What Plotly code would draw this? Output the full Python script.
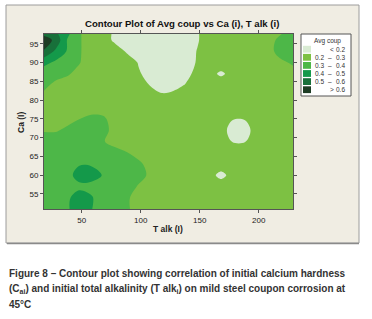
import plotly.graph_objects as go

# ---------------- data ----------------
talk = [18, 28, 38, 48, 58, 68, 78, 88, 98, 108, 118, 128, 138, 148, 158, 168, 178, 188, 198, 208, 218, 229]
ca = [51, 54, 57, 60, 63, 66, 69, 72, 75, 78, 81, 84, 87, 90, 93, 96, 97.6]

B = 0.25
avg_coup = [
    # 18   28    38    48    58     68     78    88     98    108   118   128   138   148    158   168    178    188    198   208   218   229
    [0.35, 0.36, 0.39, 0.45, 0.405, 0.35, 0.34, 0.32, B, B, B, B, B, B, B, B, B, B, B, B, B, B],                       # 51
    [0.35, 0.36, 0.38, 0.46, 0.41, 0.35, 0.34, 0.32, B, B, B, B, B, B, B, B, B, B, B, B, B, B],                        # 54
    [0.35, 0.35, 0.36, 0.37, 0.37, 0.36, 0.35, 0.36, 0.29, B, B, B, B, B, B, 0.28, B, B, B, B, B, B],                  # 57
    [0.35, 0.35, 0.36, 0.45, 0.44, 0.395, 0.36, 0.36, 0.34, 0.28, B, B, B, B, B, 0.16, B, B, B, B, B, B],             # 60
    [0.35, 0.35, 0.35, 0.39, 0.39, 0.36, 0.35, 0.35, 0.33, B, B, B, B, B, B, 0.28, B, B, B, B, B, B],                  # 63
    [0.35, 0.35, 0.35, 0.35, 0.35, 0.35, 0.35, 0.305, B, B, B, B, B, B, B, B, B, B, B, B, B, B],                       # 66
    [0.35, 0.35, 0.35, 0.35, 0.35, 0.31, B, B, B, B, B, B, B, B, B, B, 0.195, 0.195, B, B, B, B],                      # 69
    [0.29, 0.29, 0.32, 0.35, 0.35, 0.33, 0.27, B, B, B, B, B, B, B, B, B, 0.15, 0.15, B, B, B, B],                     # 72
    [B, B, 0.27, 0.298, 0.33, 0.32, B, B, B, B, B, B, B, B, B, B, 0.205, 0.205, B, B, B, B],                           # 75
    [B, B, B, B, B, B, B, B, B, B, B, B, B, B, B, B, B, B, B, B, B, B],                                                # 78
    [0.28, B, B, B, B, B, B, B, B, B, 0.22, 0.23, B, B, B, B, B, B, B, B, B, B],                                       # 81
    [0.32, 0.28, 0.26, B, B, B, B, B, B, 0.195, 0.15, 0.17, 0.205, B, B, 0.29, B, B, B, B, B, B],                      # 84
    [0.34, 0.33, 0.31, 0.27, B, B, B, B, 0.21, 0.17, 0.15, 0.15, 0.17, 0.23, B, 0.175, B, B, B, B, B, B],             # 87
    [0.43, 0.38, 0.34, 0.305, B, B, B, B, 0.195, 0.15, 0.15, 0.15, 0.15, 0.21, B, 0.29, B, B, B, B, 0.27, 0.32],      # 90
    [0.59, 0.48, 0.39, 0.31, B, B, B, 0.19, 0.15, 0.15, 0.15, 0.15, 0.15, 0.205, B, B, B, B, B, B, 0.35, 0.37],       # 93
    [0.66, 0.57, 0.39, 0.31, B, B, 0.18, 0.15, 0.15, 0.15, 0.15, 0.15, 0.15, 0.19, 0.26, B, B, B, B, B, 0.33, 0.36],  # 96
    [0.57, 0.52, 0.42, 0.31, B, B, 0.18, 0.15, 0.15, 0.15, 0.15, 0.15, 0.15, 0.19, 0.26, B, B, B, B, B, 0.29, 0.36],  # 97.6
]

levels = [0.2, 0.3, 0.4, 0.5, 0.6]
band_colors = ["#D9EBD3", "#7DC143", "#4DB748", "#14994A", "#18703A", "#1D3C24"]
legend_lo = ["", "0.2", "0.3", "0.4", "0.5", ""]
legend_sep = ["<", "\u2013", "\u2013", "\u2013", "\u2013", ">"]
legend_hi = ["0.2", "0.3", "0.4", "0.5", "0.6", "0.6"]
x_ticks = [50, 100, 150, 200]
y_ticks = [55, 60, 65, 70, 75, 80, 85, 90, 95]

# ---------------- layout helpers ----------------
W, H = 372, 319
L, R, T, Bm = 44, 79, 34, 110
PW, PH = W - L - R, H - T - Bm


def xp(px):
    return (px - L) / PW


def yp(py):
    return (H - Bm - py) / PH


n = len(band_colors)
cscale = []
for i, c in enumerate(band_colors):
    cscale.append([i / n, c])
    cscale.append([(i + 1) / n, c])

fig = go.Figure()
fig.add_trace(go.Contour(
    x=talk, y=ca, z=avg_coup,
    zmin=0.1, zmax=0.7,
    colorscale=cscale, showscale=False,
    contours=dict(start=levels[0], end=levels[-1], size=0.1, coloring="fill", showlines=False),
    line=dict(width=0, smoothing=1.0),
    hoverinfo="skip",
))

shapes = []
annotations = []

# outer panel
shapes.append(dict(type="rect", xref="paper", yref="paper",
                   x0=xp(6), x1=xp(359), y0=yp(243), y1=yp(5),
                   fillcolor="#F0EDE3", line=dict(color="#9C9C9C", width=1), layer="below"))
shapes.append(dict(type="line", xref="paper", yref="paper",
                   x0=xp(7), x1=xp(359), y0=yp(243.5), y1=yp(243.5),
                   line=dict(color="#8A8A8A", width=1.5), layer="below"))

# legend box
shapes.append(dict(type="rect", xref="paper", yref="paper",
                   x0=xp(301), x1=xp(351), y0=yp(96), y1=yp(34),
                   fillcolor="white", line=dict(color="#555555", width=1)))
annotations.append(dict(xref="paper", yref="paper", x=xp(327), y=yp(40.5), text="Avg coup",
                        showarrow=False, xanchor="center", yanchor="middle",
                        font=dict(family="Liberation Sans, Arial", size=6.5, color="#333333")))
row0, step = 49.2, 8.1
lf = dict(family="Liberation Sans, Arial", size=6.5, color="#333333")
for i, c in enumerate(band_colors):
    yc = row0 + i * step
    shapes.append(dict(type="rect", xref="paper", yref="paper",
                       x0=xp(303), x1=xp(311), y0=yp(yc + 3.4), y1=yp(yc - 3.4),
                       fillcolor=c, line=dict(width=0)))
    if legend_lo[i]:
        annotations.append(dict(xref="paper", yref="paper", x=xp(325.5), y=yp(yc), text=legend_lo[i],
                                showarrow=False, xanchor="right", yanchor="middle", font=lf))
        annotations.append(dict(xref="paper", yref="paper", x=xp(330), y=yp(yc), text=legend_sep[i],
                                showarrow=False, xanchor="center", yanchor="middle", font=lf))
    else:
        annotations.append(dict(xref="paper", yref="paper", x=xp(332), y=yp(yc), text=legend_sep[i],
                                showarrow=False, xanchor="center", yanchor="middle", font=lf))
    annotations.append(dict(xref="paper", yref="paper", x=xp(347), y=yp(yc), text=legend_hi[i],
                            showarrow=False, xanchor="right", yanchor="middle", font=lf))

# chart title
annotations.append(dict(xref="paper", yref="paper", x=xp(182), y=yp(24),
                        text="<b>Contour Plot of Avg coup vs Ca (i), T alk (i)</b>",
                        showarrow=False, xanchor="center", yanchor="middle",
                        font=dict(family="Liberation Sans, Arial", size=9.6, color="#111111")))
# axis titles
annotations.append(dict(xref="paper", yref="paper", x=xp(168), y=yp(228.5),
                        text="<b>T alk (I)</b>", showarrow=False, xanchor="center", yanchor="middle",
                        font=dict(family="Liberation Sans, Arial", size=8.5, color="#222222")))
annotations.append(dict(xref="paper", yref="paper", x=xp(21), y=yp(123),
                        text="<b>Ca (I)</b>", showarrow=False, xanchor="center", yanchor="middle",
                        textangle=-90,
                        font=dict(family="Liberation Sans, Arial", size=8.5, color="#222222")))

# caption
cap_font = dict(family="Liberation Sans, Arial", size=10, color="#333333")
caption = [
    "<b>Figure 8 \u2013 Contour plot showing correlation of initial calcium hardness</b>",
    "<b>(C<sub>ai</sub>) and initial total alkalinity (T alk<sub>i</sub>) on mild steel coupon corrosion at</b>",
    "<b>45\u00b0C</b>",
]
for i, line in enumerate(caption):
    annotations.append(dict(xref="paper", yref="paper", x=xp(7), y=yp(273.7 + i * 15.5), text=line,
                            showarrow=False, xanchor="left", yanchor="middle", font=cap_font))

axis_common = dict(showline=True, linecolor="#555555", linewidth=1, mirror="ticks",
                   ticks="outside", ticklen=3, tickcolor="#555555", showgrid=False, zeroline=False,
                   tickfont=dict(family="Liberation Sans, Arial", size=8, color="#222222"))

fig.update_layout(
    width=W, height=H,
    margin=dict(l=L, r=R, t=T, b=Bm, pad=0),
    paper_bgcolor="white", plot_bgcolor="rgba(0,0,0,0)",
    xaxis=dict(range=[18, 229], tickvals=x_ticks, **axis_common),
    yaxis=dict(range=[51, 97.6], tickvals=y_ticks, **axis_common),
    shapes=shapes, annotations=annotations, showlegend=False,
)

fig.write_html("out.html", config={"displayModeBar": False},
               post_script="document.body.style.margin='0';")
